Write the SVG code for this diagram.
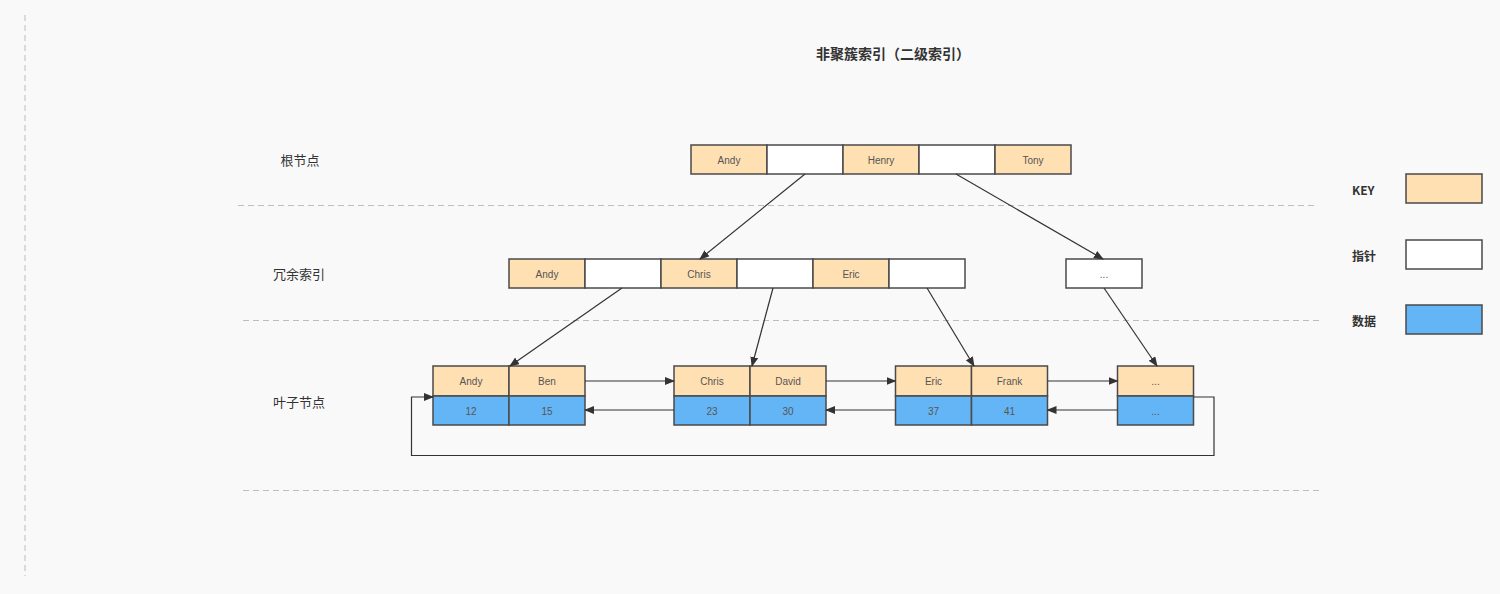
<svg xmlns="http://www.w3.org/2000/svg" width="1500" height="594" viewBox="0 0 1500 594">
<style>
.k{fill:#ffe0b2;stroke:#4a4a4a;stroke-width:1.5}
.p{fill:#ffffff;stroke:#4a4a4a;stroke-width:1.5}
.d{fill:#64b5f6;stroke:#4a4a4a;stroke-width:1.5}
.t{font-family:"Liberation Sans","Noto Sans CJK SC",sans-serif;font-size:10px;fill:#555;text-anchor:middle;dominant-baseline:central}
.lb{font-family:"Noto Sans CJK SC","Liberation Sans",sans-serif;font-size:13px;fill:#333;text-anchor:middle;dominant-baseline:central}
.lg{font-family:"Noto Sans CJK SC","Liberation Sans",sans-serif;font-size:12px;fill:#333;font-weight:bold;dominant-baseline:central}
.dash{stroke:#bdbdbd;stroke-width:1;stroke-dasharray:6,4;fill:none}
.c{stroke:#333;stroke-width:1.2;fill:none;marker-end:url(#ah)}
</style>
<defs>
<marker id="ah" markerWidth="10" markerHeight="8" refX="9" refY="4" orient="auto" markerUnits="userSpaceOnUse">
<path d="M0,0 L10,4 L0,8 Z" fill="#333"/>
</marker>
</defs>
<rect width="1500" height="594" fill="#f9f9f9"/>
<g id="guides">
<line class="dash" x1="25" y1="15" x2="25" y2="576"/>
<line class="dash" x1="238" y1="205.5" x2="1314" y2="205.5"/>
<line class="dash" x1="243" y1="320.5" x2="1319" y2="320.5"/>
<line class="dash" x1="243" y1="490.5" x2="1319" y2="490.5"/>
</g>
<text x="893" y="53" class="lb" style="font-weight:bold;font-size:14px">非聚簇索引（二级索引）</text>
<text x="300" y="159" class="lb">根节点</text>
<text x="299" y="273" class="lb">冗余索引</text>
<text x="299" y="401" class="lb">叶子节点</text>
<g id="root">
<rect class="k" x="691" y="145" width="76" height="29"/><text class="t" x="729" y="160">Andy</text>
<rect class="p" x="767" y="145" width="76" height="29"/>
<rect class="k" x="843" y="145" width="76" height="29"/><text class="t" x="881" y="160">Henry</text>
<rect class="p" x="919" y="145" width="76" height="29"/>
<rect class="k" x="995" y="145" width="76" height="29"/><text class="t" x="1033" y="160">Tony</text>
</g>
<g id="mid1">
<rect class="k" x="509" y="259" width="76" height="29"/><text class="t" x="547" y="274">Andy</text>
<rect class="p" x="585" y="259" width="76" height="29"/>
<rect class="k" x="661" y="259" width="76" height="29"/><text class="t" x="699" y="274">Chris</text>
<rect class="p" x="737" y="259" width="76" height="29"/>
<rect class="k" x="813" y="259" width="76" height="29"/><text class="t" x="851" y="274">Eric</text>
<rect class="p" x="889" y="259" width="76" height="29"/>
</g>
<g id="mid2">
<rect class="p" x="1066" y="259" width="76" height="29"/><text class="t" x="1104" y="274">...</text>
</g>
<g id="leaf1">
<rect class="k" x="433" y="366" width="76" height="30"/><text class="t" x="471" y="381">Andy</text>
<rect class="k" x="509" y="366" width="76" height="30"/><text class="t" x="547" y="381">Ben</text>
<rect class="d" x="433" y="396" width="76" height="29"/><text class="t" x="471" y="411">12</text>
<rect class="d" x="509" y="396" width="76" height="29"/><text class="t" x="547" y="411">15</text>
</g>
<g id="leaf2">
<rect class="k" x="674" y="366" width="76" height="30"/><text class="t" x="712" y="381">Chris</text>
<rect class="k" x="750" y="366" width="76" height="30"/><text class="t" x="788" y="381">David</text>
<rect class="d" x="674" y="396" width="76" height="29"/><text class="t" x="712" y="411">23</text>
<rect class="d" x="750" y="396" width="76" height="29"/><text class="t" x="788" y="411">30</text>
</g>
<g id="leaf3">
<rect class="k" x="895.5" y="366" width="76" height="30"/><text class="t" x="933.5" y="381">Eric</text>
<rect class="k" x="971.5" y="366" width="76" height="30"/><text class="t" x="1009.5" y="381">Frank</text>
<rect class="d" x="895.5" y="396" width="76" height="29"/><text class="t" x="933.5" y="411">37</text>
<rect class="d" x="971.5" y="396" width="76" height="29"/><text class="t" x="1009.5" y="411">41</text>
</g>
<g id="leaf4">
<rect class="k" x="1117.5" y="366" width="76" height="30"/><text class="t" x="1155.5" y="381">...</text>
<rect class="d" x="1117.5" y="396" width="76" height="29"/><text class="t" x="1155.5" y="411">...</text>
</g>
<g id="legend">
<text class="lg" x="1352" y="189">KEY</text>
<rect class="k" x="1406" y="174" width="76" height="29"/>
<text class="lg" x="1352" y="255">指针</text>
<rect class="p" x="1406" y="240" width="76" height="29"/>
<text class="lg" x="1352" y="320">数据</text>
<rect class="d" x="1406" y="305" width="76" height="29"/>
</g>
<g id="connectors">
<line class="c" x1="805" y1="174" x2="700" y2="259"/>
<line class="c" x1="956" y1="174" x2="1103" y2="259"/>
<line class="c" x1="622" y1="288" x2="510" y2="366"/>
<line class="c" x1="773" y1="288" x2="752" y2="366"/>
<line class="c" x1="927" y1="288" x2="974" y2="366"/>
<line class="c" x1="1104" y1="288" x2="1157" y2="366"/>
<line class="c" x1="585" y1="381" x2="674" y2="381"/>
<line class="c" x1="826" y1="381" x2="895.5" y2="381"/>
<line class="c" x1="1047.5" y1="381" x2="1117.5" y2="381"/>
<line class="c" x1="674" y1="410" x2="585" y2="410"/>
<line class="c" x1="895.5" y1="410" x2="826" y2="410"/>
<line class="c" x1="1117.5" y1="410" x2="1047.5" y2="410"/>
<path class="c" d="M1193.5,397 H1214 V455.5 H411.5 V397 H433"/>
</g>
</svg>
